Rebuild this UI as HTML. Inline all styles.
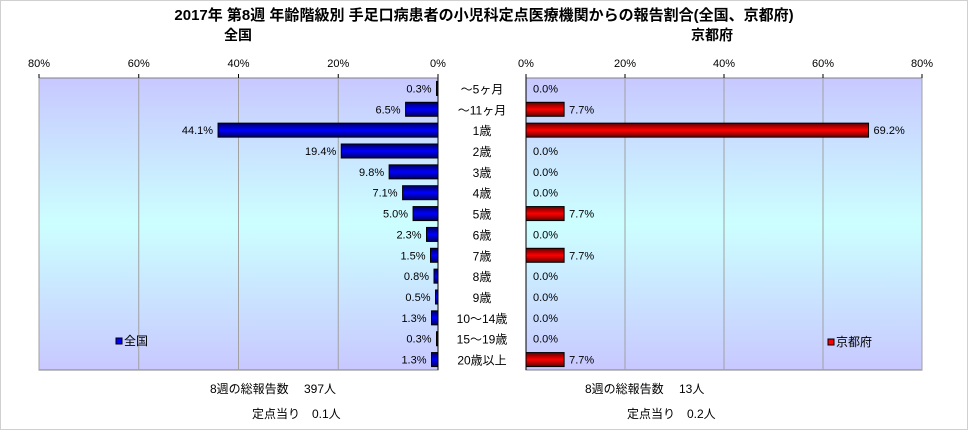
<!DOCTYPE html>
<html><head><meta charset="utf-8"><style>
body{margin:0;background:#fff;}
svg{display:block;font-family:"Liberation Sans","Noto Sans CJK JP",sans-serif;}
</style></head><body>
<svg id="c" width="968" height="430">
<defs>
<linearGradient id="bg" x1="0" y1="0" x2="0" y2="1">
<stop offset="0" stop-color="#c8c8ff"/><stop offset="0.5" stop-color="#ccffff"/><stop offset="1" stop-color="#c8c8ff"/>
</linearGradient>
<linearGradient id="blue" x1="0" y1="0" x2="0" y2="1">
<stop offset="0" stop-color="#000060"/><stop offset="0.5" stop-color="#0000ff"/><stop offset="1" stop-color="#000060"/>
</linearGradient>
<linearGradient id="red" x1="0" y1="0" x2="0" y2="1">
<stop offset="0" stop-color="#600000"/><stop offset="0.5" stop-color="#ff0000"/><stop offset="1" stop-color="#600000"/>
</linearGradient>
</defs>
<rect x="0.5" y="0.5" width="967" height="429" fill="#fff" stroke="#d0d0d0"/>
<text x="484" y="20" font-size="15" font-weight="bold" text-anchor="middle">2017年 第8週 年齢階級別 手足口病患者の小児科定点医療機関からの報告割合(全国、京都府)</text>
<text x="238" y="40" font-size="14" font-weight="bold" text-anchor="middle">全国</text>
<text x="712" y="40" font-size="14" font-weight="bold" text-anchor="middle">京都府</text>
<g id="g"></g>
<text x="210" y="393" font-size="12">8週の総報告数　 397人</text>
<text x="252" y="418" font-size="12">定点当り　0.1人</text>
<text x="585" y="393" font-size="12">8週の総報告数　 13人</text>
<text x="627" y="418" font-size="12">定点当り　0.2人</text>
</svg>
<script>
const categories=["～5ヶ月","～11ヶ月","1歳","2歳","3歳","4歳","5歳","6歳","7歳","8歳","9歳","10～14歳","15～19歳","20歳以上"];
const nationalValues=[0.3,6.5,44.1,19.4,9.8,7.1,5.0,2.3,1.5,0.8,0.5,1.3,0.3,1.3];
const kyotoValues=[0.0,7.7,69.2,0.0,0.0,0.0,7.7,0.0,7.7,0.0,0.0,0.0,0.0,7.7];
const tickValues=[0,20,40,60,80];
const NS="http://www.w3.org/2000/svg";
const g=document.getElementById('g');
const top0=78,bot0=370,rowH=(bot0-top0)/categories.length;
const L0=438,L1=39,R0=526,R1=922;
const xL=v=>L0-(L0-L1)*v/80, xR=v=>R0+(R1-R0)*v/80, yRow=i=>top0+rowH*i;
function mk(t,a,p){const e=document.createElementNS(NS,t);for(const k in a)e.setAttribute(k,a[k]);(p||g).appendChild(e);return e;}
let e=mk('rect',{x:L1,y:top0,width:L0-L1,height:bot0-top0,fill:'url(#bg)',stroke:'#808080'});


e=mk('rect',{x:R0,y:top0,width:R1-R0,height:bot0-top0,fill:'url(#bg)',stroke:'#808080'});


tickValues.forEach(v=>{
  [[xL(v),'national'],[xR(v),'kyoto']].forEach(([x,s])=>{
    let l=mk('line',{x1:x,y1:top0,x2:x,y2:bot0,stroke:'#a0a0a0'});
    
    
    let t=mk('line',{x1:x,y1:top0-4,x2:x,y2:top0,stroke:'#000'});
    
    
    let tx=mk('text',{x:x,y:67,'font-size':11,'text-anchor':'middle'});
    tx.textContent=v+'%';
    
    
  });
});
mk('line',{x1:L0,y1:top0,x2:L0,y2:bot0,stroke:'#000'});
mk('line',{x1:R0,y1:top0,x2:R0,y2:bot0,stroke:'#000'});
const bh=14;
categories.forEach((c,i)=>{
  const cy=yRow(i)+rowH/2;
  let t=mk('text',{x:482,y:cy+5,'font-size':12,'text-anchor':'middle'});
  t.textContent=c;
  
  
  const nv=nationalValues[i];
  let b=mk('rect',{x:xL(nv),y:cy-bh/2,width:L0-xL(nv),height:bh,fill:'url(#blue)',stroke:'#000','stroke-width':1});
  
  
  let vl=mk('text',{x:xL(nv)-5,y:cy+4,'font-size':11,'text-anchor':'end'});
  vl.textContent=nv.toFixed(1)+'%';
  
  
  const kv=kyotoValues[i];
  if(kv>0){
    let r=mk('rect',{x:R0,y:cy-bh/2,width:xR(kv)-R0,height:bh,fill:'url(#red)',stroke:'#000','stroke-width':1});
    
    
  }
  let kl=mk('text',{x:(kv>0?xR(kv)+5:R0+7),y:cy+4,'font-size':11});
  kl.textContent=kv.toFixed(1)+'%';
  
  
});
let lr=mk('rect',{x:116,y:338,width:6,height:6,fill:'#0000ff',stroke:'#000'});


let lt=mk('text',{x:124,y:345,'font-size':12});lt.textContent='全国';


let kr=mk('rect',{x:828,y:339,width:6,height:6,fill:'#ff0000',stroke:'#000'});


let kt=mk('text',{x:836,y:346,'font-size':12});kt.textContent='京都府';


</script>
</body></html>
